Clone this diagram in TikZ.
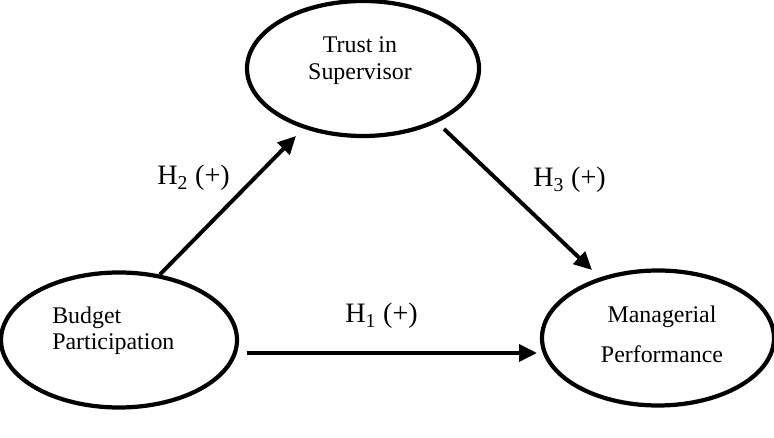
\documentclass[tikz,border=0pt]{standalone}
\usepackage{fontspec}
\setmainfont{Liberation Serif}
\usepackage{tikz}
\usetikzlibrary{arrows.meta, shapes.geometric}

\begin{document}
\begin{tikzpicture}[construct/.style={ellipse, draw, line width=3pt, inner sep=0pt, minimum width=5.8cm, minimum height=3.375cm},
		hyp/.style={line width=2.8pt, -{Triangle[length=12.8pt, width=12pt]}},
		lbl/.style={inner sep=0pt, font=\fontsize{17}{19.2}\selectfont},
		hlbl/.style={inner sep=0pt, anchor=base west, font=\fontsize{20}{24}\selectfont}]
			% Frame:
			\useasboundingbox (0, 0) rectangle (19.35, 10.95);
			% Constructs and their texts (base = last line):
			\node[construct](N1) at (9.075, 9.2375){};
			\node[construct, minimum width=5.9cm](N2) at (2.975, 2.45){};
			\node[construct](N3) at (16.45, 2.5){};
			\node[lbl, align=center, anchor=base](T1) at (9.0, 8.95){Trust in\\Supervisor};
			\node[lbl, align=left, anchor=base west](T2) at (1.3, 2.2){Budget\\Participation};
			\node[lbl, align=center, anchor=base](T3) at (16.55, 1.875){Managerial\\[9.3pt]Performance};
			% Hypotheses:
			\coordinate (A1) at (6.175, 2.125);
			\coordinate (B1) at (13.425, 2.125);
			\coordinate (B2) at (7.4, 7.55);
			\coordinate (A3) at (11.1, 7.725);
			\coordinate (B3) at (14.8, 4.2);
			\draw[hyp] (A1) -- (B1);
			\draw[hyp] (N2.58) -- (B2);
			\draw[hyp] (A3) -- (B3);
			\node[hlbl](H1) at (8.625, 2.875){H\textsubscript{1} (+)};
			\node[hlbl](H2) at (3.925, 6.325){H\textsubscript{2} (+)};
			\node[hlbl](H3) at (13.325, 6.275){H\textsubscript{3} (+)};
		\end{tikzpicture}
\end{document}
